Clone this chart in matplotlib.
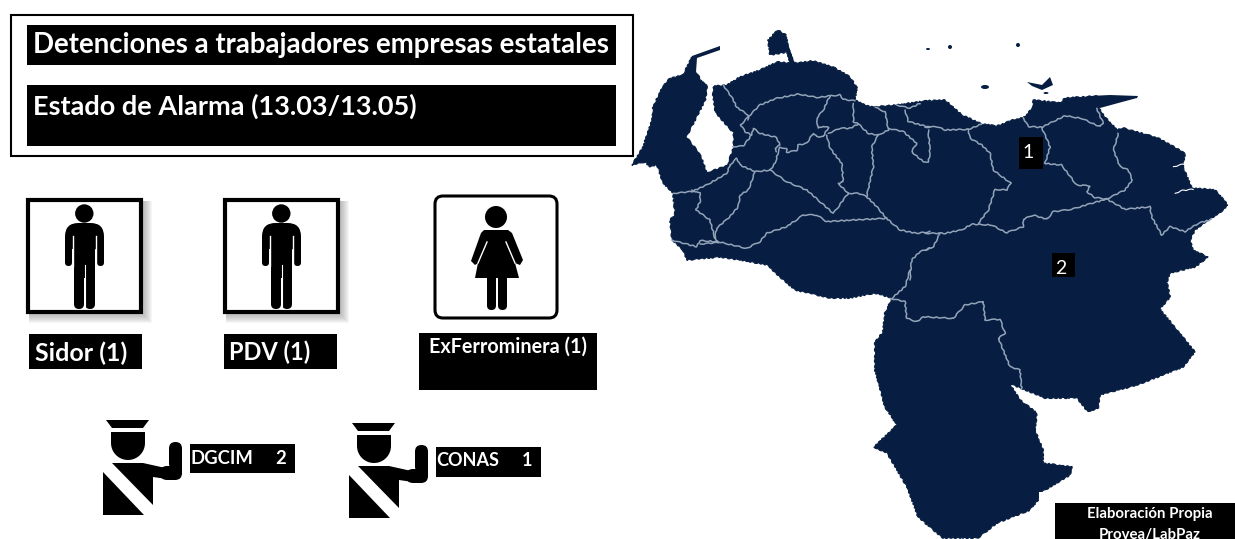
import numpy as np
import matplotlib
matplotlib.use("Agg")
import matplotlib.pyplot as plt
from matplotlib.patches import Rectangle, FancyBboxPatch, Circle, Polygon, Ellipse

plt.rcParams["font.family"] = ["Lato", "DejaVu Sans"]

NAVY = "#071e42"
LINE = "#93a4b9"

# ── Data ──────────────────────────────────────────────────────────────────────
titulo_1 = "Detenciones a trabajadores empresas estatales"
titulo_2 = "Estado de Alarma (13.03/13.05)"
empresas = ["Sidor", "PDV", "ExFerrominera"]
detenidos = [1, 1, 1]
cuerpos = ["DGCIM", "CONAS"]
cuerpos_n = [2, 1]
estados_n = [1, 2]
credito = ["Elaboración Propia", "Provea/LabPaz"]

# ── Map geometry, image pixels ────────────────────────────────────────────────
contorno = [
    (632, 165), (643, 147), (652, 120), (653, 107), (662, 88), (670, 78), (683, 75),
    (692, 57), (695, 57), (695, 70), (702, 82), (708, 85),
    (715, 86), (727, 85), (740, 77), (760, 70), (777, 62), (790, 63), (787, 52),
    (770, 55), (768, 40), (778, 30), (786, 35), (788, 47), (794, 63),
    (813, 61), (833, 67), (850, 77), (857, 88), (855, 100), (870, 107), (897, 105),
    (925, 101), (945, 100), (953, 107), (962, 115), (982, 124), (997, 126),
    (1013, 120), (1025, 117), (1033, 107), (1033, 100), (1060, 103), (1065, 98),
    (1098, 96), (1098, 107), (1105, 117), (1117, 130),
    (1123, 128), (1148, 135), (1158, 138), (1185, 153), (1183, 167), (1192, 188),
    (1215, 190), (1228, 205), (1220, 213), (1208, 220), (1195, 230), (1190, 240),
    (1193, 250), (1208, 257), (1195, 267), (1170, 273), (1167, 282), (1170, 297),
    (1160, 309), (1195, 352), (1183, 367), (1163, 375), (1137, 385), (1100, 395),
    (1098, 408), (1088, 412), (1077, 398), (1045, 398), (1023, 389), (1010, 384),
    (1020, 400), (1037, 413), (1035, 430), (1043, 450), (1043, 463), (1072, 467),
    (1070, 475), (1050, 487), (1040, 493), (1038, 500), (1030, 510), (997, 523),
    (978, 538), (943, 538), (918, 517), (907, 487), (887, 453), (874, 447),
    (897, 425), (885, 407), (875, 370), (875, 342), (883, 332), (885, 313),
    (892, 298), (875, 293), (850, 298), (830, 298), (795, 290), (780, 277),
    (767, 265), (740, 260), (720, 257), (687, 260), (683, 250), (672, 240),
    (670, 220), (675, 215), (673, 193), (663, 183), (657, 165), (650, 167), (645, 162),
]
peninsula_paria = [(1090, 96), (1110, 95), (1138, 96), (1137, 98), (1122, 102), (1100, 108), (1090, 108)]
peninsula_guajira = [(690, 60), (692, 56), (720, 46), (720, 50), (697, 58), (696, 72), (688, 72)]
istmo_paraguana = [(785, 44), (788, 44), (795, 64), (790, 64)]
lago = [
    (708, 82), (714, 83), (712, 93), (715, 113), (733, 133), (733, 147), (727, 165),
    (707, 172), (703, 160), (700, 153), (687, 137), (706, 100),
]
isla_margarita = [(1027, 82), (1042, 85), (1050, 77), (1053, 85), (1042, 90), (1032, 86)]
islotes_x = [985, 1018, 950, 928, 1046]
islotes_y = [87, 45, 47, 49, 93]
islotes_w = [8, 4, 4, 4, 5]
islotes_h = [4, 4, 4, 2, 2]

bordes_oeste = [
    [(310, 195), (340, 240), (350, 262), (385, 285), (385, 300)],
    [(385, 290), (420, 255), (470, 235), (535, 222), (590, 232), (630, 228), (660, 225), (670, 238), (705, 243)],
    [(385, 290), (362, 315), (375, 335), (395, 345), (400, 325), (420, 340), (470, 352), (480, 375), (465, 385), (470, 395)],
    [(338, 380), (370, 378), (395, 345)],
    [(330, 435), (350, 415), (360, 435), (405, 455), (450, 450), (465, 430), (475, 395), (480, 382), (500, 385), (500, 397),
     (530, 392), (535, 375), (560, 370), (580, 340), (590, 350), (610, 350), (625, 322), (610, 318), (595, 325), (590, 295),
     (610, 270), (630, 228)],
    [(625, 340), (660, 325), (690, 325), (715, 312), (745, 340), (775, 345), (805, 330), (795, 275), (765, 262)],
    [(700, 250), (700, 305), (715, 312)],
    [(620, 345), (630, 385), (665, 430), (670, 485), (655, 490), (685, 520), (640, 580), (600, 545), (560, 510), (500, 485), (450, 450)],
    [(685, 520), (715, 520), (740, 530), (770, 560), (800, 595)],
    [(775, 345), (755, 380), (760, 440), (740, 530)],
    [(155, 660), (190, 670), (230, 680), (240, 662), (295, 665), (380, 685), (420, 665), (440, 640), (500, 620), (550, 585),
     (590, 585), (620, 605), (700, 600), (800, 595), (840, 630), (890, 640), (930, 635)],
    [(160, 520), (215, 515), (260, 495), (320, 460), (330, 435)],
    [(405, 455), (385, 510), (360, 525), (355, 560), (330, 590), (290, 625), (285, 655), (295, 665)],
    [(215, 510), (240, 520), (240, 545), (228, 570), (270, 600), (285, 655)],
    [(240, 672), (295, 668)],
    [(805, 325), (850, 335), (890, 370), (875, 395), (910, 425), (925, 425), (930, 400), (925, 330)],
    [(855, 270), (865, 305), (930, 322)],
    [(830, 255), (870, 265), (900, 250)],
    [(870, 780), (875, 720), (900, 695), (930, 685)],
]
bordes_este = [
    [(0, 322), (35, 320), (60, 330), (130, 328), (170, 312)],
    [(130, 328), (135, 355), (170, 375), (195, 400), (205, 450), (258, 490), (245, 510), (210, 508), (190, 570), (160, 610)],
    [(0, 640), (60, 640), (110, 630), (140, 612), (200, 615), (245, 638), (295, 620), (295, 598), (325, 585), (365, 598),
     (385, 575), (440, 568), (500, 550), (545, 537), (600, 568), (675, 560), (680, 590), (710, 645), (735, 620), (780, 635),
     (820, 610), (860, 598)],
    [(545, 537), (600, 510), (622, 480), (610, 450), (585, 440), (565, 390), (580, 340)],
    [(295, 293), (310, 320), (350, 322), (420, 287), (470, 295), (525, 320), (535, 310), (515, 265)],
    [(350, 322), (375, 380), (360, 430), (410, 435), (455, 495), (495, 498), (485, 515), (510, 533), (545, 537)],
    [(45, 640), (25, 680), (0, 690)],
]
bordes_sur = [
    [(120, 85), (165, 95), (170, 145), (200, 155), (220, 140), (310, 145), (345, 105), (400, 95), (405, 150), (450, 148),
     (465, 190), (445, 205), (480, 290), (510, 300), (515, 358)],
    [(180, 0), (165, 50), (125, 85)],
]
caños_delta = [
    [(750, 520), (770, 512), (805, 508)],
    [(745, 440), (785, 430)],
]

fig = plt.figure(figsize=(12.35, 5.39), dpi=100)
ax = fig.add_axes([0, 0, 1, 1])
ax.set_xlim(0, 1235)
ax.set_ylim(539, 0)
ax.axis("off")


def caja(x0, y0, x1, y1, color="black", z=3):
    ax.add_patch(Rectangle((x0, y0), x1 - x0, y1 - y0, fc=color, ec="none", zorder=z))


def trazo(lineas, x0, y0, color=LINE, lw=1.1):
    for pts in lineas:
        arr = np.array(pts, dtype=float) / 3 + [x0, y0]
        ln, = ax.plot(arr[:, 0], arr[:, 1], color=color, lw=lw, zorder=2,
                      solid_joinstyle="round", solid_capstyle="round")
        ln.set_sketch_params(scale=0.5, length=9, randomness=3)


def capsula(x0, y0, x1, y1, z=5, color="black"):
    r = min(x1 - x0, y1 - y0) / 2
    ax.add_patch(FancyBboxPatch((x0 + r, y0 + r), x1 - x0 - 2 * r, y1 - y0 - 2 * r,
                                boxstyle=f"round,pad={r},rounding_size={r}",
                                fc=color, ec="none", zorder=z))


def hombre(dx):
    # square frame with soft shadow, then the figure
    for i in range(8):
        ax.add_patch(Rectangle((26 + dx + 3, 198 + 3), 117 + 6 - i, 116 + 6 - i,
                               fc="#808080", ec="none", alpha=0.07, zorder=1))
    ax.add_patch(Rectangle((28 + dx, 200), 113, 112, fc="white", ec="black", lw=3, zorder=3))
    ax.add_patch(Circle((84.3 + dx, 213.5), 9.2, fc="black", ec="none", zorder=5))
    capsula(65 + dx, 223, 104 + dx, 250)
    capsula(65 + dx, 235, 72 + dx, 266)
    capsula(97 + dx, 235, 104 + dx, 266)
    ax.add_patch(Rectangle((74 + dx, 228), 21, 50, fc="black", ec="none", zorder=5))
    capsula(74 + dx, 265, 84 + dx, 309)
    capsula(85 + dx, 265, 95 + dx, 309)
    ax.plot([72.7 + dx, 72.7 + dx], [236, 266], color="white", lw=1.0, zorder=6)
    ax.plot([96.3 + dx, 96.3 + dx], [236, 266], color="white", lw=1.0, zorder=6)
    ax.plot([84.5 + dx, 84.5 + dx], [265, 306], color="white", lw=0.8, zorder=6)


def mujer():
    ax.add_patch(FancyBboxPatch((443, 204), 106, 106, boxstyle="round,pad=8,rounding_size=8",
                                fc="white", ec="black", lw=2.2, zorder=3))
    ax.add_patch(Circle((496, 217), 11, fc="black", ec="none", zorder=5))
    ax.add_patch(Polygon([(484, 230), (508, 230), (512, 233), (523, 260), (520, 265), (515, 263),
                          (519, 278), (475, 278), (478, 263), (475, 265), (471, 261), (481, 233)],
                         fc="black", ec="none", zorder=5))
    ax.plot([487, 478], [242, 263], color="white", lw=1.0, zorder=6)
    ax.plot([506, 515], [242, 263], color="white", lw=1.0, zorder=6)
    capsula(487, 270, 496, 310)
    capsula(498, 270, 507, 310)


def policia(dx, dy):
    ax.add_patch(Polygon([(106 + dx, 420 + dy), (149 + dx, 420 + dy), (143 + dx, 428 + dy), (112 + dx, 428 + dy)],
                         fc="black", ec="none", zorder=5))
    t = np.linspace(0, np.pi, 30)
    cabeza = [(111 + dx, 432 + dy), (145 + dx, 432 + dy)] + \
             [(128 + dx + 17 * np.cos(a), 443 + dy + 17 * np.sin(a)) for a in t]
    ax.add_patch(Polygon(cabeza, fc="black", ec="none", zorder=5))
    ax.add_patch(Polygon([(103 + dx, 472 + dy), (103 + dx, 515 + dy), (144 + dx, 515 + dy)],
                         fc="black", ec="none", zorder=5))
    ax.add_patch(Polygon([(112 + dx, 463 + dy), (143 + dx, 463 + dy), (170 + dx, 469 + dy), (170 + dx, 450 + dy),
                          (182 + dx, 450 + dy), (182 + dx, 474 + dy), (174 + dx, 480 + dy), (153 + dx, 477 + dy),
                          (153 + dx, 505 + dy)], fc="black", ec="none", zorder=5))
    capsula(169 + dx, 442 + dy, 182 + dx, 470 + dy)
    capsula(160 + dx, 466 + dy, 182 + dx, 480 + dy)


# ── Map ───────────────────────────────────────────────────────────────────────
costa = Polygon(contorno, fc=NAVY, ec=NAVY, lw=0.8, zorder=1)
costa.set_sketch_params(scale=0.6, length=6, randomness=3)
ax.add_patch(costa)
for forma in [peninsula_paria, peninsula_guajira, istmo_paraguana, isla_margarita]:
    ax.add_patch(Polygon(forma, fc=NAVY, ec="none", zorder=1))
laguna = Polygon(lago, fc="white", ec="none", zorder=1.5)
laguna.set_sketch_params(scale=0.6, length=8, randomness=3)
ax.add_patch(laguna)
for x, y, w, h in zip(islotes_x, islotes_y, islotes_w, islotes_h):
    ax.add_patch(Ellipse((x, y), w, h, fc=NAVY, ec="none", zorder=1))
trazo(bordes_oeste, 620, 20)
trazo(bordes_este, 925, 20)
trazo(bordes_sur, 850, 270)
trazo(caños_delta, 925, 20, color="white", lw=0.8)

caja(1019, 137, 1043, 169)
ax.text(1028, 153, str(estados_n[0]), color="white", fontsize=14, ha="center", va="center", zorder=4)
caja(1052, 253, 1075, 277)
ax.text(1061, 269, str(estados_n[1]), color="white", fontsize=14, ha="center", va="center", zorder=4)

# ── Title frame ───────────────────────────────────────────────────────────────
ax.add_patch(Rectangle((11, 14.5), 622, 141.5, fc="white", ec="black", lw=1.5, zorder=2))
caja(27, 25, 616, 65)
caja(27, 85, 616, 146)
ax.text(33, 45, titulo_1, color="white", fontsize=19.9, fontweight="bold", ha="left", va="center", zorder=4)
ax.text(33, 106, titulo_2, color="white", fontsize=19.5, fontweight="bold", ha="left", va="center", zorder=4)

# ── Workers ───────────────────────────────────────────────────────────────────
hombre(0)
hombre(197)
mujer()

caja(29, 334, 142, 369)
ax.text(35, 353, f"{empresas[0]} ({detenidos[0]})", color="white", fontsize=18, fontweight="bold",
        ha="left", va="center", zorder=4)
caja(224, 334, 337, 369)
ax.text(229, 352, f"{empresas[1]} ({detenidos[1]})", color="white", fontsize=17, fontweight="bold",
        ha="left", va="center", zorder=4)
caja(419, 333, 597, 390)
ax.text(429, 347, f"{empresas[2]} ({detenidos[2]})", color="white", fontsize=14.2, fontweight="bold",
        ha="left", va="center", zorder=4)

# ── Security forces ───────────────────────────────────────────────────────────
policia(0, 0)
policia(246, 3)

caja(190, 444, 295, 473)
ax.text(190, 458, cuerpos[0], color="white", fontsize=13.3, fontweight="bold", ha="left", va="center", zorder=4)
ax.text(281, 458, str(cuerpos_n[0]), color="white", fontsize=13.3, fontweight="bold", ha="center", va="center", zorder=4)
caja(436, 447, 541, 477)
ax.text(436, 461, cuerpos[1], color="white", fontsize=13, fontweight="bold", ha="left", va="center", zorder=4)
ax.text(527, 461, str(cuerpos_n[1]), color="white", fontsize=13, fontweight="bold", ha="center", va="center", zorder=4)

# ── Credit, cut by the bottom edge as in the source ───────────────────────────
caja(1055, 503, 1235, 539)
caja(1039, 492, 1055, 503, color="white", z=2.5)
ax.text(1150, 514, credito[0], color="white", fontsize=10.8, fontweight="bold", ha="center", va="center", zorder=4)
ax.text(1150, 535, credito[1], color="white", fontsize=10.8, fontweight="bold", ha="center", va="center", zorder=4)

fig.savefig("out.png", dpi=100, facecolor="white")
